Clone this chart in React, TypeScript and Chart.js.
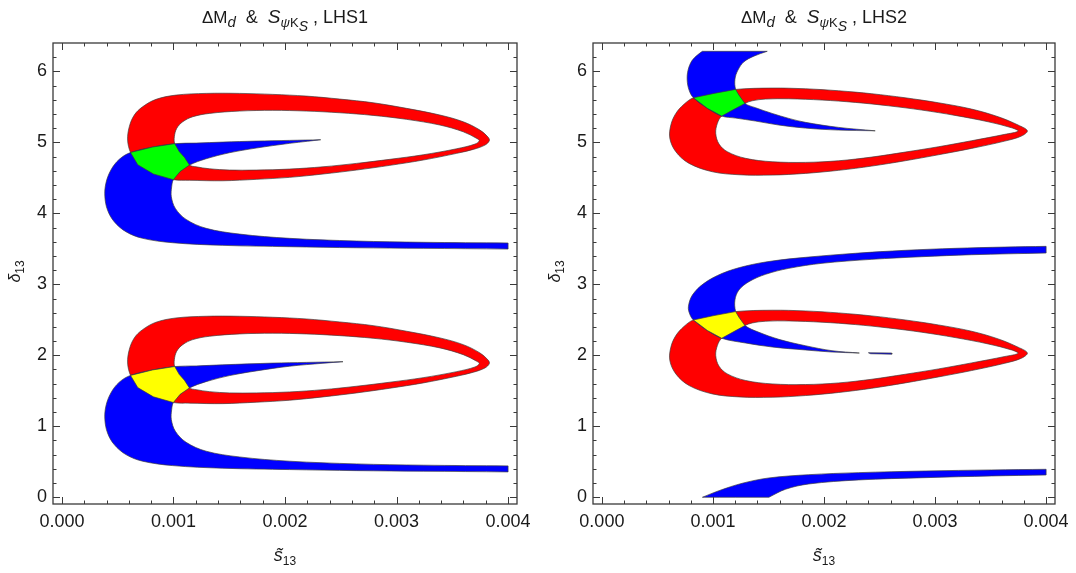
import React, { useEffect, useRef } from 'react';
import { Chart, registerables } from 'chart.js';

Chart.register(...registerables);

type Pt = [number, number]; // [s13 in units of 1e-3, delta13]

// ---------- axes ----------
const X_UNIT = 1e-3;
const X_TICKS = [0, 0.001, 0.002, 0.003, 0.004];
const Y_TICKS = [0, 1, 2, 3, 4, 5, 6];
const X_MINOR = 0.0002;
const Y_MINOR = 0.2;
const X_MIN = -0.00008;
const X_MAX = 0.00408;
const Y_MIN = -0.095;
const Y_MAX = 6.4;

const RED = '#ff0000';
const BLUE = '#0000ff';
const GREEN = '#00ff00';
const YELLOW = '#ffff00';
const HOLE = '#ffffff';
const EDGE = 'rgba(60,60,60,0.8)';
const FONT = '"Liberation Sans", Arial, Helvetica, sans-serif';

// ---------- LHS1 (left panel) ----------
const L1_RED_UP_OUT: Pt[] = [[0.615,4.857],[0.589,5.032],[0.604,5.220],[0.649,5.385],[0.723,5.501],[0.844,5.606],[1.023,5.666],[1.293,5.690],[1.592,5.690],[1.891,5.676],[2.191,5.652],[2.491,5.610],[2.790,5.558],[3.090,5.479],[3.389,5.385],[3.598,5.290],[3.748,5.173],[3.823,5.070],[3.832,5.023],[3.793,4.962],[3.688,4.901],[3.539,4.845],[3.239,4.751],[2.940,4.676],[2.641,4.610],[2.341,4.554],[2.041,4.507],[1.742,4.479],[1.442,4.459],[1.143,4.466],[0.999,4.475],[0.820,4.555],[0.680,4.685]];
const L1_RED_UP_IN: Pt[] = [[1.143,4.680],[1.098,4.789],[1.053,4.868],[1.011,4.982],[1.008,5.079],[1.029,5.197],[1.083,5.290],[1.173,5.361],[1.323,5.408],[1.592,5.441],[1.891,5.451],[2.191,5.441],[2.491,5.417],[2.790,5.380],[3.090,5.324],[3.389,5.244],[3.598,5.149],[3.719,5.056],[3.742,5.023],[3.704,4.976],[3.539,4.910],[3.239,4.825],[2.940,4.761],[2.641,4.704],[2.341,4.656],[2.041,4.624],[1.742,4.610],[1.502,4.610],[1.323,4.628],[1.203,4.656]];
const L1_BLUE_UP: Pt[] = [[2.320,5.037],[2.041,5.028],[1.742,5.018],[1.442,5.004],[1.203,4.990],[1.011,4.982],[0.813,4.934],[0.615,4.857],[0.514,4.761],[0.439,4.610],[0.394,4.423],[0.385,4.234],[0.409,4.046],[0.469,3.882],[0.574,3.741],[0.723,3.648],[0.993,3.586],[1.442,3.549],[2.041,3.530],[2.641,3.515],[3.239,3.507],[4.000,3.497],[4.000,3.582],[3.239,3.592],[2.641,3.610],[2.041,3.648],[1.592,3.708],[1.293,3.789],[1.113,3.915],[1.017,4.070],[0.981,4.234],[0.984,4.375],[0.999,4.475],[1.060,4.590],[1.143,4.680],[1.293,4.769],[1.502,4.854],[1.742,4.920],[2.041,4.986],[2.200,5.015]];
const L1_GREEN: Pt[] = [[0.615,4.857],[0.813,4.934],[1.011,4.982],[1.053,4.868],[1.098,4.789],[1.143,4.680],[1.060,4.590],[0.999,4.475],[0.820,4.555],[0.680,4.685]];

const L1_RED_LO_OUT: Pt[] = [[0.615,1.717],[0.589,1.892],[0.604,2.080],[0.649,2.245],[0.723,2.361],[0.844,2.466],[1.023,2.526],[1.293,2.550],[1.592,2.550],[1.891,2.536],[2.191,2.512],[2.491,2.470],[2.790,2.418],[3.090,2.339],[3.389,2.245],[3.598,2.150],[3.748,2.033],[3.823,1.930],[3.832,1.883],[3.793,1.822],[3.688,1.761],[3.539,1.705],[3.239,1.611],[2.940,1.536],[2.641,1.470],[2.341,1.414],[2.041,1.367],[1.742,1.339],[1.442,1.319],[1.143,1.326],[0.999,1.335],[0.820,1.415],[0.680,1.545]];
const L1_RED_LO_IN: Pt[] = [[1.143,1.540],[1.098,1.649],[1.053,1.728],[1.011,1.842],[1.008,1.939],[1.029,2.057],[1.083,2.150],[1.173,2.221],[1.323,2.268],[1.592,2.301],[1.891,2.311],[2.191,2.301],[2.491,2.277],[2.790,2.240],[3.090,2.184],[3.389,2.104],[3.598,2.009],[3.719,1.916],[3.742,1.883],[3.704,1.836],[3.539,1.770],[3.239,1.685],[2.940,1.621],[2.641,1.564],[2.341,1.516],[2.041,1.484],[1.742,1.470],[1.502,1.470],[1.323,1.488],[1.203,1.516]];
const L1_BLUE_LO: Pt[] = [[2.520,1.910],[2.191,1.900],[1.891,1.890],[1.442,1.866],[1.203,1.850],[1.011,1.842],[0.813,1.794],[0.615,1.717],[0.514,1.621],[0.439,1.470],[0.394,1.283],[0.385,1.094],[0.409,0.906],[0.469,0.742],[0.574,0.601],[0.723,0.508],[0.993,0.446],[1.442,0.409],[2.041,0.390],[2.641,0.375],[3.239,0.367],[4.000,0.357],[4.000,0.442],[3.239,0.452],[2.641,0.470],[2.041,0.508],[1.592,0.568],[1.293,0.649],[1.113,0.775],[1.017,0.930],[0.981,1.094],[0.984,1.235],[0.999,1.335],[1.060,1.450],[1.143,1.540],[1.293,1.629],[1.502,1.714],[1.742,1.780],[2.041,1.846],[2.341,1.888]];
const L1_YELLOW: Pt[] = [[0.615,1.717],[0.813,1.794],[1.011,1.842],[1.053,1.728],[1.098,1.649],[1.143,1.540],[1.060,1.450],[0.999,1.335],[0.820,1.415],[0.680,1.545]];

// ---------- LHS2 (right panel) ----------
const L2_BLUE_TOP: Pt[] = [[0.905,6.283],[1.489,6.283],[1.369,6.215],[1.279,6.135],[1.225,6.018],[1.198,5.887],[1.204,5.746],[1.234,5.666],[1.288,5.549],[1.384,5.488],[1.533,5.408],[1.683,5.338],[1.833,5.282],[2.132,5.211],[2.461,5.163],[2.132,5.173],[1.833,5.201],[1.593,5.244],[1.384,5.300],[1.205,5.342],[1.079,5.370],[0.950,5.479],[0.824,5.628],[0.785,5.737],[0.768,5.877],[0.776,6.018],[0.810,6.149],[0.860,6.230]];
const L2_RED_UP_OUT: Pt[] = [[0.824,5.628],[1.010,5.690],[1.204,5.746],[1.533,5.765],[1.833,5.755],[2.132,5.727],[2.431,5.685],[2.731,5.628],[3.030,5.558],[3.329,5.469],[3.568,5.361],[3.748,5.244],[3.831,5.163],[3.778,5.089],[3.628,5.018],[3.329,4.915],[3.030,4.825],[2.731,4.741],[2.431,4.666],[2.132,4.606],[1.833,4.563],[1.533,4.539],[1.234,4.544],[0.995,4.586],[0.785,4.704],[0.666,4.868],[0.612,5.056],[0.621,5.244],[0.666,5.408],[0.741,5.539]];
const L2_RED_UP_IN: Pt[] = [[1.288,5.549],[1.189,5.465],[1.079,5.370],[1.040,5.268],[1.025,5.127],[1.055,4.976],[1.130,4.868],[1.294,4.775],[1.533,4.727],[1.833,4.718],[2.132,4.741],[2.431,4.793],[2.731,4.863],[3.030,4.938],[3.329,5.023],[3.628,5.113],[3.748,5.159],[3.688,5.206],[3.478,5.290],[3.180,5.380],[2.880,5.455],[2.581,5.515],[2.282,5.563],[1.982,5.596],[1.683,5.614],[1.474,5.610],[1.354,5.586]];
const L2_GREEN: Pt[] = [[0.824,5.628],[1.010,5.690],[1.204,5.746],[1.234,5.666],[1.288,5.549],[1.189,5.465],[1.079,5.370],[0.950,5.479]];

const L2_BLUE_MID: Pt[] = [[4.000,3.535],[3.628,3.525],[3.180,3.507],[2.731,3.479],[2.282,3.437],[1.833,3.380],[1.533,3.328],[1.294,3.258],[1.085,3.155],[0.920,3.014],[0.815,2.849],[0.779,2.685],[0.791,2.582],[0.824,2.498],[0.950,2.349],[1.079,2.240],[1.294,2.173],[1.533,2.117],[1.833,2.075],[2.072,2.046],[2.318,2.032],[2.072,2.065],[1.833,2.135],[1.593,2.225],[1.414,2.324],[1.288,2.419],[1.234,2.536],[1.204,2.616],[1.198,2.779],[1.234,2.920],[1.324,3.037],[1.474,3.141],[1.683,3.225],[1.982,3.296],[2.431,3.352],[2.880,3.389],[3.329,3.417],[4.000,3.441]];
const L2_BLUE_SLIVER: Pt[] = [[2.400,2.036],[2.610,2.032],[2.610,2.016],[2.420,2.022]];
const L2_RED_MID_OUT: Pt[] = [[0.824,2.498],[1.010,2.560],[1.204,2.616],[1.533,2.635],[1.833,2.625],[2.132,2.597],[2.431,2.555],[2.731,2.498],[3.030,2.428],[3.329,2.339],[3.568,2.231],[3.748,2.114],[3.831,2.033],[3.778,1.959],[3.628,1.888],[3.329,1.785],[3.030,1.695],[2.731,1.611],[2.431,1.536],[2.132,1.476],[1.833,1.433],[1.533,1.409],[1.234,1.414],[0.995,1.456],[0.785,1.574],[0.666,1.738],[0.612,1.926],[0.621,2.114],[0.666,2.278],[0.741,2.409]];
const L2_RED_MID_IN: Pt[] = [[1.288,2.419],[1.189,2.335],[1.079,2.240],[1.040,2.138],[1.025,1.997],[1.055,1.846],[1.130,1.738],[1.294,1.645],[1.533,1.597],[1.833,1.588],[2.132,1.611],[2.431,1.663],[2.731,1.733],[3.030,1.808],[3.329,1.893],[3.628,1.983],[3.748,2.029],[3.688,2.076],[3.478,2.160],[3.180,2.250],[2.880,2.325],[2.581,2.385],[2.282,2.433],[1.982,2.466],[1.683,2.484],[1.474,2.480],[1.354,2.456]];
const L2_YELLOW: Pt[] = [[0.824,2.498],[1.010,2.560],[1.204,2.616],[1.234,2.536],[1.288,2.419],[1.189,2.335],[1.079,2.240],[0.950,2.349]];
const L2_BLUE_BOTTOM: Pt[] = [[0.905,0],[1.055,0.093],[1.264,0.197],[1.504,0.272],[1.863,0.318],[2.312,0.347],[2.910,0.370],[3.508,0.385],[4.000,0.394],[4.000,0.314],[3.508,0.300],[2.910,0.276],[2.312,0.244],[1.863,0.187],[1.654,0.113],[1.504,0]];

// ---------- helpers ----------
function nearestIndex(p: Pt[], q: Pt) {
  let k = 0;
  let best = Infinity;
  p.forEach(([x, y], i) => {
    const d = (x - q[0]) ** 2 + (y - q[1]) ** 2;
    if (d < best) {
      best = d;
      k = i;
    }
  });
  return k;
}
// close a loop starting at the vertex nearest `start` (seam hidden under an overlap);
// vertices listed in `corners` are doubled so the smoothed outline keeps a sharp corner there
function loopFrom(p: Pt[], start?: Pt, corners: Pt[] = []): Pt[] {
  const k = start ? nearestIndex(p, start) : 0;
  const r = [...p.slice(k), ...p.slice(0, k)];
  const cornerIdx = new Set(corners.map((c) => nearestIndex(r, c)));
  const out: Pt[] = [];
  r.forEach((pt, i) => {
    out.push(pt);
    if (cornerIdx.has(i)) out.push(pt);
  });
  out.push(r[0]);
  return out;
}

type Region = { pts: Pt[]; color: string; order: number; tension: number };

const SMOOTH = 0.35;

const LEFT_REGIONS: Region[] = [
  { pts: loopFrom(L1_RED_UP_OUT, [0.82, 4.555]), color: RED, order: 4, tension: SMOOTH },
  { pts: loopFrom(L1_RED_UP_IN, [1.053, 4.868]), color: HOLE, order: 3, tension: SMOOTH },
  { pts: loopFrom(L1_BLUE_UP, undefined, [[4, 3.497], [4, 3.582]]), color: BLUE, order: 2, tension: SMOOTH },
  { pts: loopFrom(L1_GREEN), color: GREEN, order: 1, tension: 0 },
  { pts: loopFrom(L1_RED_LO_OUT, [0.82, 1.415]), color: RED, order: 4, tension: SMOOTH },
  { pts: loopFrom(L1_RED_LO_IN, [1.053, 1.728]), color: HOLE, order: 3, tension: SMOOTH },
  { pts: loopFrom(L1_BLUE_LO, undefined, [[4, 0.357], [4, 0.442]]), color: BLUE, order: 2, tension: SMOOTH },
  { pts: loopFrom(L1_YELLOW), color: YELLOW, order: 1, tension: 0 },
];
const RIGHT_REGIONS: Region[] = [
  { pts: loopFrom(L2_RED_UP_OUT, [1.01, 5.69]), color: RED, order: 4, tension: SMOOTH },
  { pts: loopFrom(L2_RED_UP_IN, [1.189, 5.465]), color: HOLE, order: 3, tension: SMOOTH },
  { pts: loopFrom(L2_BLUE_TOP, undefined, [[1.489, 6.283], [2.461, 5.163]]), color: BLUE, order: 2, tension: SMOOTH },
  { pts: loopFrom(L2_GREEN), color: GREEN, order: 1, tension: 0 },
  { pts: loopFrom(L2_RED_MID_OUT, [1.01, 2.56]), color: RED, order: 4, tension: SMOOTH },
  { pts: loopFrom(L2_RED_MID_IN, [1.189, 2.335]), color: HOLE, order: 3, tension: SMOOTH },
  { pts: loopFrom(L2_BLUE_MID, undefined, [[4, 3.441], [2.318, 2.032]]), color: BLUE, order: 2, tension: SMOOTH },
  { pts: loopFrom(L2_BLUE_SLIVER), color: BLUE, order: 2, tension: 0 },
  { pts: loopFrom(L2_YELLOW), color: YELLOW, order: 1, tension: 0 },
  { pts: loopFrom(L2_BLUE_BOTTOM, undefined, [[4, 0.394], [4, 0.314], [1.504, 0]]), color: BLUE, order: 2, tension: SMOOTH },
];

type Seg = { t: string; size: number; italic?: boolean; dy?: number };

function drawRich(ctx: CanvasRenderingContext2D, segs: Seg[], cx: number, baseY: number) {
  const fontOf = (s: Seg) => `${s.italic ? 'italic ' : ''}${s.size}px ${FONT}`;
  let total = 0;
  const widths = segs.map((s) => {
    ctx.font = fontOf(s);
    const w = ctx.measureText(s.t).width;
    total += w;
    return w;
  });
  let x = cx - total / 2;
  ctx.textAlign = 'left';
  ctx.textBaseline = 'alphabetic';
  segs.forEach((s, i) => {
    ctx.font = fontOf(s);
    ctx.fillText(s.t, x, baseY + (s.dy || 0));
    x += widths[i];
  });
}

function titleSegs(tag: string): Seg[] {
  return [
    { t: 'ΔM', size: 17 },
    { t: 'd', size: 15, italic: true, dy: 4 },
    { t: '  &  ', size: 18 },
    { t: 'S', size: 19, italic: true },
    { t: 'ψ', size: 13, italic: true, dy: 4 },
    { t: 'K', size: 13, dy: 4 },
    { t: 'S', size: 14, italic: true, dy: 8 },
    { t: ' , ' + tag, size: 18 },
  ];
}
const X_LABEL: Seg[] = [
  { t: 's\u0303', size: 18, italic: true },
  { t: '13', size: 12, dy: 4 },
];
const Y_LABEL: Seg[] = [
  { t: 'δ', size: 16, italic: true },
  { t: '13', size: 12, dy: 4 },
];

function makeDecor(tag: string) {
  return {
    id: 'decor' + tag,
    afterDatasetsDraw(chart: any) {
      const { ctx, chartArea: a, scales } = chart;
      const xs = scales.x;
      const ys = scales.y;
      ctx.save();
      ctx.strokeStyle = '#3a3a3a';
      ctx.lineWidth = 1;
      const tick = (x1: number, y1: number, x2: number, y2: number) => {
        ctx.beginPath();
        ctx.moveTo(x1, y1);
        ctx.lineTo(x2, y2);
        ctx.stroke();
      };
      const MAJ = 7;
      const MIN = 3.5;
      const xLast = X_TICKS[X_TICKS.length - 1];
      for (let k = 0; ; k++) {
        const v = X_TICKS[0] + k * X_MINOR;
        if (v > xLast + 1e-12) break;
        const len = k % 5 === 0 ? MAJ : MIN;
        const px = Math.round(xs.getPixelForValue(v)) + 0.5;
        tick(px, a.bottom, px, a.bottom - len);
        tick(px, a.top, px, a.top + len);
      }
      for (let k = 0; ; k++) {
        const v = Y_TICKS[0] + k * Y_MINOR;
        if (v > Y_MAX - 0.05) break;
        const len = k % 5 === 0 ? MAJ : MIN;
        const py = Math.round(ys.getPixelForValue(v)) + 0.5;
        tick(a.left, py, a.left + len, py);
        tick(a.right, py, a.right - len, py);
      }
      ctx.lineWidth = 1.3;
      ctx.strokeRect(a.left, a.top, a.right - a.left, a.bottom - a.top);
      ctx.restore();
    },
    afterDraw(chart: any) {
      const { ctx, chartArea: a } = chart;
      const cx = (a.left + a.right) / 2;
      ctx.save();
      ctx.fillStyle = '#1a1a1a';
      drawRich(ctx, titleSegs(tag), cx, 23);
      drawRich(ctx, X_LABEL, cx, 561);
      ctx.translate(20, (a.top + a.bottom) / 2 - 2);
      ctx.rotate(-Math.PI / 2);
      drawRich(ctx, Y_LABEL, 0, 0);
      ctx.restore();
    },
  };
}

function Panel({ left, width, tag, regions }: { left: number; width: number; tag: string; regions: Region[] }) {
  const ref = useRef<HTMLCanvasElement>(null);
  useEffect(() => {
    if (!ref.current) return;
    const datasets = regions.map((r) => ({
      data: r.pts.map(([x, y]) => ({ x: x * X_UNIT, y })),
      backgroundColor: r.color,
      borderColor: EDGE,
      borderWidth: 0.85,
      borderJoinStyle: 'round' as const,
      fill: 'shape' as any,
      pointRadius: 0,
      tension: r.tension,
      order: r.order,
    }));
    const chart = new Chart(ref.current, {
      type: 'line',
      data: { datasets },
      plugins: [makeDecor(tag)],
      options: {
        responsive: false,
        animation: false,
        events: [],
        layout: { padding: { top: 43, right: width - 517, bottom: 0, left: 0 } },
        plugins: {
          legend: { display: false },
          title: { display: false },
          tooltip: { enabled: false },
        },
        scales: {
          x: {
            type: 'linear',
            min: X_MIN,
            max: X_MAX,
            grid: { display: false, drawTicks: false },
            border: { display: false },
            afterBuildTicks: (s: any) => {
              s.ticks = X_TICKS.map((v) => ({ value: v }));
            },
            afterFit: (s: any) => {
              s.height = 69;
            },
            ticks: {
              padding: 7,
              color: '#1a1a1a',
              font: { family: FONT, size: 18 },
              maxRotation: 0,
              autoSkip: false,
              callback: (v: any) => Number(v).toFixed(3),
            },
          },
          y: {
            type: 'linear',
            min: Y_MIN,
            max: Y_MAX,
            grid: { display: false, drawTicks: false },
            border: { display: false },
            afterBuildTicks: (s: any) => {
              s.ticks = Y_TICKS.map((v) => ({ value: v }));
            },
            afterFit: (s: any) => {
              s.width = 53;
            },
            ticks: {
              padding: 6,
              color: '#1a1a1a',
              font: { family: FONT, size: 18 },
              autoSkip: false,
              callback: (v: any) => String(Math.round(Number(v))),
            },
          },
        },
      } as any,
    });
    return () => chart.destroy();
  }, []);
  return (
    <canvas
      ref={ref}
      width={width}
      height={573}
      style={{ position: 'absolute', left, top: 0, width, height: 573, display: 'block' }}
    />
  );
}

export default function App() {
  return (
    <div style={{ position: 'absolute', left: 0, top: 0, width: 1076, height: 573, background: '#fff' }}>
      <Panel left={0} width={538} tag="LHS1" regions={LEFT_REGIONS} />
      <Panel left={540} width={536} tag="LHS2" regions={RIGHT_REGIONS} />
    </div>
  );
}
